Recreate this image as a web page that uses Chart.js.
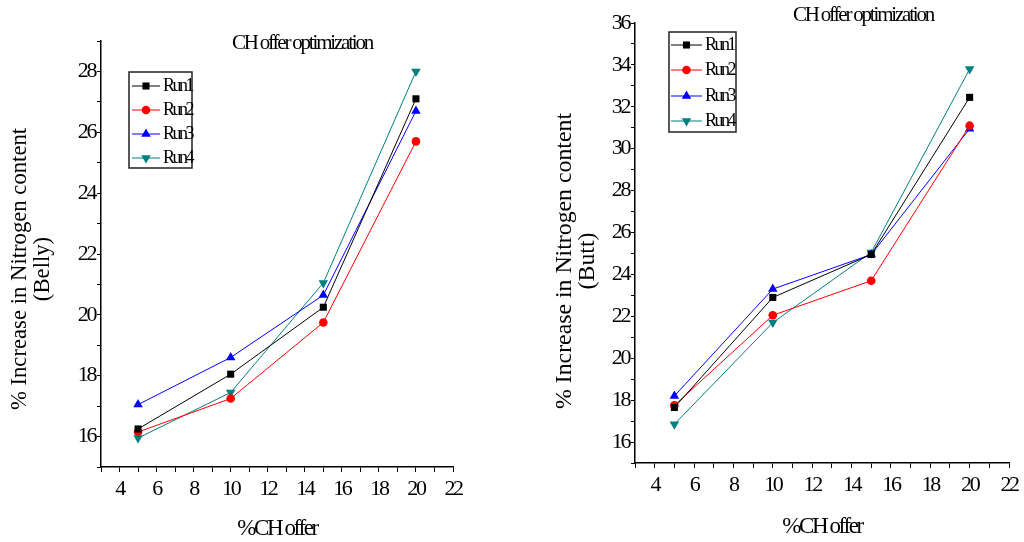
<!DOCTYPE html>
<html><head><meta charset="utf-8">
<script src="https://cdn.jsdelivr.net/npm/chart.js@4.4.1/dist/chart.umd.min.js"></script>
<style>
html,body{margin:0;padding:0;background:#fff;width:1024px;height:542px;overflow:hidden}
.c{position:absolute;top:0;width:512px;height:542px}
</style></head><body>
<div class="c" style="left:0"><canvas id="belly" width="512" height="542"></canvas></div>
<div class="c" style="left:512px"><canvas id="butt" width="512" height="542"></canvas></div>
<script>
// ---- data ----
const chOffer = [5, 10, 15, 20];
const runLabels = ['Run1', 'Run2', 'Run3', 'Run4'];
const bellyRun1 = [16.25, 18.05, 20.25, 27.1];
const bellyRun2 = [16.15, 17.25, 19.75, 25.7];
const bellyRun3 = [17.05, 18.6, 20.65, 26.7];
const bellyRun4 = [15.95, 17.45, 21.05, 28.0];
const buttRun1 = [17.65, 22.9, 24.95, 32.45];
const buttRun2 = [17.75, 22.05, 23.7, 31.1];
const buttRun3 = [18.2, 23.3, 24.95, 30.95];
const buttRun4 = [16.85, 21.7, 25.05, 33.8];
const chartTitle = 'CH offer optimization';
const xTitle = '%CH offer';
const yTitleMain = '% Increase in Nitrogen content';

const FONT = 'Liberation Serif';
const styles = [
  {color: '#000000', pointStyle: 'rect', radius: 5, rotation: 0},
  {color: '#ff0000', pointStyle: 'circle', radius: 4.3, rotation: 0},
  {color: '#0000ff', pointStyle: 'triangle', radius: 5.5, rotation: 0},
  {color: '#008080', pointStyle: 'triangle', radius: 5.5, rotation: 180}
];

const overlayPlugin = {
  id: 'overlay',
  beforeDraw(chart) { chart.ctx.letterSpacing = '-2.4px'; },
  afterDraw(chart) {
    const o = chart.options.plugins.overlay;
    const ctx = chart.ctx;
    ctx.save();
    // chart title
    ctx.letterSpacing = '-2.2px';
    ctx.fillStyle = '#000';
    ctx.font = '21px "' + FONT + '"';
    ctx.textAlign = 'center';
    ctx.textBaseline = 'middle';
    ctx.fillText(chartTitle, o.titleX, o.titleY);
    // y title (two lines, rotated)
    ctx.letterSpacing = '0px';
    ctx.font = o.yFont + 'px "' + FONT + '"';
    o.yLines.forEach((ln) => {
      ctx.save();
      ctx.translate(ln.x, o.yCenter);
      ctx.rotate(-Math.PI / 2);
      ctx.fillText(ln.text, 0, 0);
      ctx.restore();
    });
    // legend box
    const L = o.legend;
    ctx.strokeStyle = '#222';
    ctx.lineWidth = 1.5;
    ctx.strokeRect(L.x1, L.y1, L.x2 - L.x1, L.y2 - L.y1);
    chart.data.datasets.forEach((ds, i) => {
      const y = L.rows[i];
      ctx.strokeStyle = ds.borderColor;
      ctx.lineWidth = 1;
      ctx.beginPath();
      ctx.moveTo(L.lx1, y); ctx.lineTo(L.lx2, y);
      ctx.stroke();
      ctx.fillStyle = ds.backgroundColor;
      Chart.helpers.drawPoint(ctx, {pointStyle: ds.pointStyle, radius: ds.pointRadius, rotation: ds.pointRotation, borderWidth: 0}, (L.lx1 + L.lx2) / 2, y);
      ctx.fillStyle = '#000';
      ctx.letterSpacing = '-2.5px';
      ctx.font = '18px "' + FONT + '"';
      ctx.textAlign = 'left';
      ctx.fillText(ds.label, L.tx, y);
    });
    ctx.restore();
  }
};

function makeChart(id, series, cfg) {
  const datasets = series.map((vals, i) => ({
    label: runLabels[i],
    data: chOffer.map((x, j) => ({x: x, y: vals[j]})),
    borderColor: styles[i].color,
    backgroundColor: styles[i].color,
    borderWidth: 1,
    pointStyle: styles[i].pointStyle,
    pointRadius: styles[i].radius,
    pointRotation: styles[i].rotation,
    pointBorderWidth: 0,
    tension: 0
  }));
  const tickFont = {family: FONT, size: 22};
  return new Chart(document.getElementById(id), {
    type: 'line',
    data: {datasets},
    options: {
      responsive: false,
      animation: false,
      devicePixelRatio: 1,
      layout: {padding: {left: 0, top: cfg.area.top, right: 512 - cfg.area.right, bottom: 0}},
      plugins: {
        legend: {display: false},
        tooltip: {enabled: false},
        overlay: cfg.overlay
      },
      scales: {
        x: {
          type: 'linear', min: 3, max: 22,
          ticks: {stepSize: 1, autoSkip: false, maxRotation: 0, color: '#000', font: tickFont, padding: 4,
                  callback: (v) => (v % 2 === 0 ? String(v) : '')},
          grid: {drawOnChartArea: false, drawTicks: true, tickLength: 5, color: '#000', tickWidth: 1},
          border: {color: '#000', width: 1.5},
          title: {display: true, text: xTitle, color: '#000', font: {family: FONT, size: 23, lineHeight: 1.1}, padding: {top: 0, bottom: cfg.xTitlePad}},
          afterFit: (s) => { s.height = 542 - cfg.area.bottom; }
        },
        y: {
          type: 'linear', min: cfg.yMin, max: cfg.yMax,
          ticks: {stepSize: 1, autoSkip: false, color: '#000', font: tickFont, padding: 2,
                  callback: (v) => (v % 2 === 0 ? String(v) : '')},
          grid: {drawOnChartArea: false, drawTicks: true, tickLength: 4, color: '#000', tickWidth: 1},
          border: {color: '#000', width: 1.5},
          afterFit: (s) => { s.width = cfg.area.left; }
        }
      }
    },
    plugins: [overlayPlugin]
  });
}

makeChart('belly', [bellyRun1, bellyRun2, bellyRun3, bellyRun4], {
  area: {left: 101, right: 453, top: 41, bottom: 467},
  yMin: 15, yMax: 29, xTitlePad: 0,
  overlay: {
    titleX: 302, titleY: 43,
    yFont: 22.7, yCenter: 269,
    yLines: [{text: yTitleMain, x: 20}, {text: '(Belly)', x: 43}],
    legend: {x1: 129, y1: 72, x2: 192, y2: 168, rows: [86, 110, 134, 158], lx1: 132, lx2: 160, tx: 163}
  }
});

makeChart('butt', [buttRun1, buttRun2, buttRun3, buttRun4], {
  area: {left: 123, right: 497, top: 23, bottom: 463},
  yMin: 15, yMax: 36, xTitlePad: 2,
  overlay: {
    titleX: 351, titleY: 15,
    yFont: 23.8, yCenter: 261,
    yLines: [{text: yTitleMain, x: 53}, {text: '(Butt)', x: 76}],
    legend: {x1: 157, y1: 32, x2: 224, y2: 132, rows: [45, 70, 96, 121], lx1: 159, lx2: 190, tx: 193}
  }
});
</script>
</body></html>
